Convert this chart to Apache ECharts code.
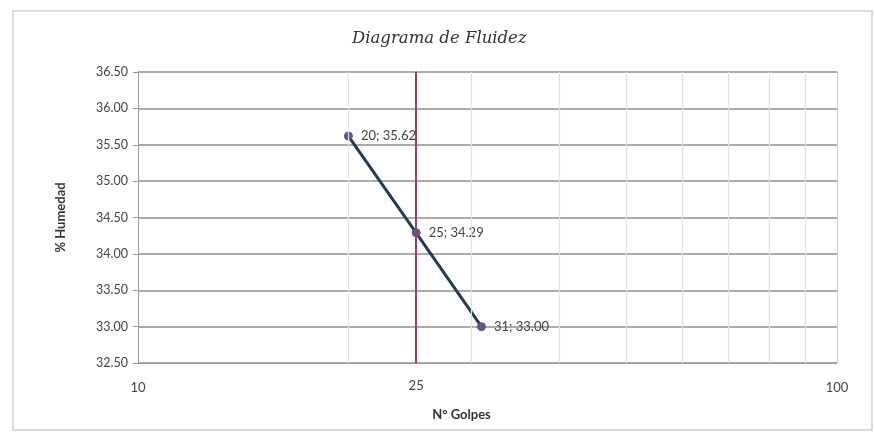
<!DOCTYPE html>
<html>
<head>
<meta charset="utf-8">
<script src="https://cdn.jsdelivr.net/npm/echarts@6/dist/echarts.min.js"></script>
<style>
  html, body { margin: 0; padding: 0; background: #fff; }
  #chart { width: 875px; height: 432px; }
</style>
</head>
<body>
<div id="chart"></div>
<script>
// Flow curve: number of blows (log scale) vs. moisture content
const golpes = [20, 25, 31];
const humedad = [35.62, 34.29, 33.00];
const golpesReferencia = 25;
const golpesSecundarios = [20, 30, 40, 50, 60, 70, 80, 90];
const humedadMin = 32.5;
const humedadMax = 36.5;
const humedadPaso = 0.5;

const font = 'Lato, "Open Sans", sans-serif';

const puntos = golpes.map((g, i) => [g, humedad[i]]);

const chart = echarts.init(document.getElementById('chart'), null, { renderer: 'canvas' });

chart.setOption({
  backgroundColor: '#ffffff',
  animation: false,
  title: {
    text: 'Diagrama de Fluidez',
    left: 347,
    top: 25,
    textStyle: {
      fontFamily: '"DejaVu Serif", serif',
      fontStyle: 'italic',
      fontWeight: 'normal',
      fontSize: 16.5,
      color: '#333'
    }
  },
  graphic: [{
    type: 'rect',
    shape: { x: 13, y: 11, width: 859, height: 419 },
    style: { fill: 'none', stroke: '#cfcfcf', lineWidth: 1.5 },
    silent: true
  }],
  grid: { left: 138, right: 38, top: 72, bottom: 69 },
  xAxis: {
    type: 'log',
    logBase: 10,
    min: 10,
    max: 100,
    name: 'N° Golpes',
    nameLocation: 'middle',
    nameGap: 45,
    nameTextStyle: {
      fontFamily: font, fontWeight: 'bold', fontSize: 13, color: '#333',
      padding: [0, 52, 0, 0]
    },
    axisLine: { show: true, lineStyle: { color: '#9a9a9a', width: 1 } },
    axisTick: { show: false },
    axisLabel: { fontFamily: font, fontSize: 13, color: '#444', margin: 18 },
    splitLine: { show: true, lineStyle: { color: '#cccccc', width: 1 } },
    minorSplitLine: { show: false }
  },
  yAxis: {
    type: 'value',
    min: humedadMin,
    max: humedadMax,
    interval: humedadPaso,
    name: '% Humedad',
    nameLocation: 'middle',
    nameGap: 71,
    nameTextStyle: { fontFamily: font, fontWeight: 'bold', fontSize: 13, color: '#333' },
    axisLine: { show: true, lineStyle: { color: '#9a9a9a', width: 1 } },
    axisTick: { show: true, length: 5, lineStyle: { color: '#9a9a9a' } },
    axisLabel: {
      fontFamily: font, fontSize: 12.5, color: '#444', margin: 10,
      formatter: v => v.toFixed(2)
    },
    splitLine: { show: true, lineStyle: { color: '#8f8f8f', width: 1.5 } }
  },
  series: [
    {
      // light vertical gridlines between the decades
      type: 'line',
      data: [],
      silent: true,
      z: 1,
      markLine: {
        silent: true,
        symbol: 'none',
        label: { show: false },
        lineStyle: { color: '#e0e0e0', width: 1.2, type: 'solid' },
        data: golpesSecundarios.map(g => ({ xAxis: g }))
      }
    },
    {
      // reference at 25 blows
      type: 'line',
      data: [],
      silent: true,
      z: 3,
      markLine: {
        silent: true,
        symbol: 'none',
        lineStyle: { color: '#a03a5e', width: 2, type: 'solid' },
        label: {
          show: true,
          position: 'start',
          distance: 16,
          formatter: String(golpesReferencia),
          fontFamily: font,
          fontSize: 13,
          color: '#444'
        },
        data: [{ xAxis: golpesReferencia }]
      }
    },
    {
      type: 'line',
      data: puntos,
      z: 4,
      lineStyle: { color: '#1f3d5a', width: 3 },
      symbol: 'circle',
      symbolSize: 8,
      itemStyle: { color: '#5b5589', borderColor: '#5b5589' },
      label: {
        show: true,
        position: 'right',
        distance: 8,
        fontFamily: font,
        fontSize: 13,
        color: '#444',
        formatter: p => p.value[0] + '; ' + p.value[1].toFixed(2)
      }
    }
  ]
});
</script>
</body>
</html>
